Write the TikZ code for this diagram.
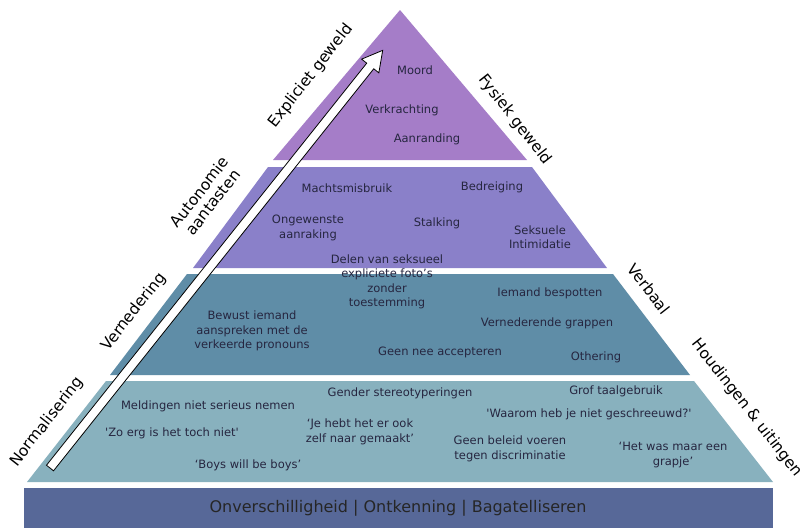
\documentclass[tikz,border=0pt]{standalone}
\usepackage{fontspec}
\setmainfont{DejaVu Sans}
\definecolor{cA}{HTML}{A57DC8}
\definecolor{cB}{HTML}{8A80C9}
\definecolor{cC}{HTML}{5F8DA7}
\definecolor{cD}{HTML}{88B1BE}
\definecolor{cE}{HTML}{576898}
\definecolor{txt}{HTML}{262640}
\begin{document}
\begin{tikzpicture}[x=1pt,y=-1pt,
  lay/.style={text=txt, font=\fontsize{11.5}{14.5}\selectfont, align=center, inner sep=0pt},
  sidel/.style={text=black, font=\fontsize{15.5}{17}\selectfont, align=center, inner sep=0pt, rotate=52},
  sider/.style={text=black, font=\fontsize{15.5}{17}\selectfont, align=center, inner sep=0pt, rotate=-52},
  band/.style={text=black!85, font=\fontsize{16}{18}\selectfont, inner sep=0pt}]
\useasboundingbox[fill=white] (0,0) rectangle (805,528);
% layers
\fill[cA] (400,10) -- (527,160) -- (273,160) -- cycle;
\fill[cB] (268,167) -- (532,167) -- (607,268) -- (193,268) -- cycle;
\fill[cC] (187,274) -- (613,274) -- (690,375) -- (110,375) -- cycle;
\fill[cD] (106,381) -- (694,381) -- (773,482) -- (27,482) -- cycle;
\fill[cE] (24,488) rectangle (773,528);
% layer 1
\node[lay] (moord) at (415,70) {Moord};
\node[lay] (verkr) at (402,110) {Verkrachting};
\node[lay] (aanr) at (427,139) {Aanranding};
% layer 2
\node[lay] (macht) at (347,188) {Machtsmisbruik};
\node[lay] (bedr) at (492,187) {Bedreiging};
\node[lay] (ongew) at (308,228) {Ongewenste\\aanraking};
\node[lay] (stalk) at (437,223) {Stalking};
\node[lay] (seks) at (540,237) {Seksuele\\Intimidatie};
\node[lay] (delen) at (387,282) {Delen van seksueel\\expliciete foto's\\zonder\\toestemming};
% layer 3
\node[lay] (iemand) at (550,293) {Iemand bespotten};
\node[lay] (bewust) at (252,331) {Bewust iemand\\aanspreken met de\\verkeerde pronouns};
\node[lay] (grappen) at (547,323) {Vernederende grappen};
\node[lay] (geennee) at (440,352) {Geen nee accepteren};
\node[lay] (other) at (596,357) {Othering};
% layer 4
\node[lay] (gender) at (400,393) {Gender stereotyperingen};
\node[lay] (grof) at (616,391) {Grof taalgebruik};
\node[lay] (meld) at (208,406) {Meldingen niet serieus nemen};
\node[lay] (waarom) at (589,414) {\textquotesingle Waarom heb je niet geschreeuwd?\textquotesingle};
\node[lay] (zoerg) at (172,433) {\textquotesingle Zo erg is het toch niet\textquotesingle};
\node[lay] (jehebt) at (360,432) {`Je hebt het er ook\\zelf naar gemaakt'};
\node[lay] (beleid) at (510,449) {Geen beleid voeren\\tegen discriminatie};
\node[lay] (hetwas) at (673,455) {`Het was maar een\\grapje'};
\node[lay] (boys) at (248,465) {`Boys will be boys'};
% band
\node[band] (bottom) at (398,508) {Onverschilligheid | Ontkenning | Bagatelliseren};
% side labels
\node[sidel] (expl) at (311,76) {Expliciet geweld};
\node[sidel] (auto) at (206,197) {Autonomie\\aantasten};
\node[sidel] (vern) at (134,312) {Vernedering};
\node[sidel] (norm) at (47,422) {Normalisering};
\node[sider] (fys) at (515,120) {Fysiek geweld};
\node[sider] (verb) at (649,289) {Verbaal};
\node[sider] (houd) at (747,408) {Houdingen \& uitingen};
% arrow
\coordinate (tail) at (50,468);
\coordinate (tip) at (383,50);
\begin{scope}[shift={(tail)}, rotate=51.46]
\draw[fill=white, line width=0.8pt, line join=miter]
  (0,-4.5) -- (514,-4.5) -- (514,-11) -- (534,0) -- (514,11) -- (514,4.5) -- (0,4.5) -- cycle;
\end{scope}
\end{tikzpicture}
\end{document}
